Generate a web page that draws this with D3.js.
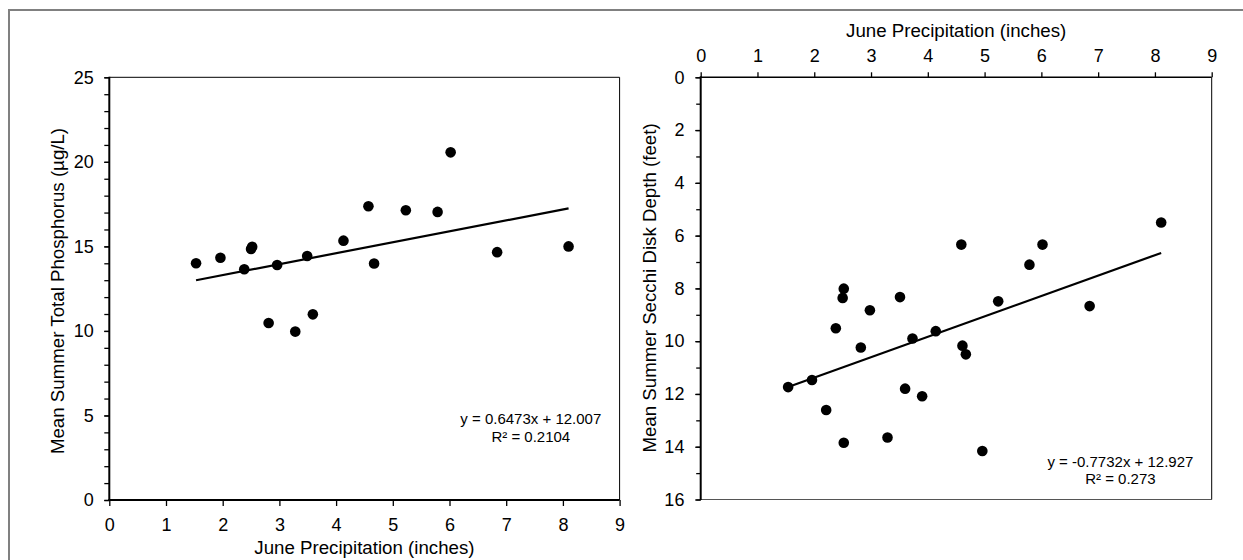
<!DOCTYPE html>
<html>
<head>
<meta charset="utf-8">
<script src="https://cdn.jsdelivr.net/npm/d3@7"></script>
<style>
  html, body { margin: 0; padding: 0; background: #fff; }
  svg { display: block; font-family: Arial, "Liberation Sans", sans-serif; }
</style>
</head>
<body>
<svg id="chart" width="1243" height="560"></svg>
<script>
// ---------- DATA ----------
const xTicks = [0, 1, 2, 3, 4, 5, 6, 7, 8, 9];
const tpTicks = [0, 5, 10, 15, 20, 25];
const secchiTicks = [0, 2, 4, 6, 8, 10, 12, 14, 16];

const xTitle = "June Precipitation (inches)";
const tpTitle = "Mean Summer Total Phosphorus (µg/L)";
const secchiTitle = "Mean Summer Secchi Disk Depth (feet)";

// Total phosphorus vs June precipitation
const tpPrecip = [1.53, 1.96, 2.38, 2.50, 2.52, 2.81, 2.96, 3.28, 3.49, 3.59, 4.13, 4.57, 4.67, 5.23, 5.79, 6.02, 6.84, 8.10];
const tpValues = [14.0, 14.33, 13.65, 14.85, 14.98, 10.47, 13.9, 9.96, 14.43, 10.98, 15.34, 17.37, 13.99, 17.14, 17.04, 20.56, 14.66, 15.0];
const tpFit = { slope: 0.6473, intercept: 12.007 };
const tpEq = ["y = 0.6473x + 12.007", "R² = 0.2104"];

// Secchi depth vs June precipitation
const sdPrecip = [1.54, 1.96, 2.21, 2.38, 2.50, 2.52, 2.52, 2.82, 2.98, 3.29, 3.51, 3.60, 3.73, 3.90, 4.14, 4.59, 4.61, 4.67, 4.96, 5.24, 5.79, 6.02, 6.85, 8.11];
const sdValues = [11.74, 11.47, 12.61, 9.51, 8.36, 8.01, 13.85, 10.24, 8.83, 13.65, 8.33, 11.80, 9.90, 12.09, 9.62, 6.34, 10.17, 10.50, 14.16, 8.49, 7.10, 6.34, 8.67, 5.50];
const sdFit = { slope: -0.7732, intercept: 12.927 };
const sdEq = ["y = -0.7732x + 12.927", "R² = 0.273"];

// ---------- DRAW ----------
const svg = d3.select("#chart");
const TICK_FONT = 18, TITLE_FONT = 18.7, EQ_FONT = 15, R = 5.3;

// outer frame
svg.append("rect").attr("x", 9).attr("y", 10).attr("width", 1300).attr("height", 600)
  .attr("fill", "none").attr("stroke", "#808080").attr("stroke-width", 2);

function styleAxis(g) {
  g.select(".domain").remove();
  g.selectAll(".tick line").attr("stroke", "#000").attr("stroke-width", 1.3);
  g.selectAll(".tick text").attr("font-size", TICK_FONT).attr("fill", "#000")
    .attr("font-family", 'Arial, "Liberation Sans", sans-serif');
}

function fitLine(g, x, y, xs, fit) {
  const x0 = d3.min(xs), x1 = d3.max(xs);
  g.append("line")
    .attr("x1", x(x0)).attr("y1", y(fit.slope * x0 + fit.intercept))
    .attr("x2", x(x1)).attr("y2", y(fit.slope * x1 + fit.intercept))
    .attr("stroke", "#000").attr("stroke-width", 2.2);
}

function dots(g, x, y, xs, ys) {
  g.selectAll("circle.pt").data(xs.map((d, i) => [d, ys[i]])).join("circle")
    .attr("class", "pt")
    .attr("cx", d => x(d[0])).attr("cy", d => y(d[1])).attr("r", R).attr("fill", "#000");
}

function eqText(cx, ys, lines) {
  lines.forEach((t, i) => {
    svg.append("text").attr("x", cx).attr("y", ys[i]).attr("dy", "0.35em")
      .attr("text-anchor", "middle").attr("font-size", EQ_FONT).text(t);
  });
}

// ===== Left chart =====
{
  const x = d3.scaleLinear().domain([0, 9]).range([109.3, 619.6]);
  const y = d3.scaleLinear().domain([0, 25]).range([500, 77.3]);
  const g = svg.append("g");

  g.append("g").attr("transform", `translate(${x(0)},0)`)
    .call(d3.axisLeft(y).tickValues(d3.range(0, 26, 1)).tickSize(5).tickFormat(""))
    .call(styleAxis);
  g.append("g").attr("transform", `translate(${x(0)},0)`)
    .call(d3.axisLeft(y).tickValues(tpTicks).tickSize(5).tickPadding(10.6))
    .call(styleAxis);
  g.append("g").attr("transform", `translate(0,${y(0)})`)
    .call(d3.axisBottom(x).tickValues(xTicks).tickSize(6).tickPadding(12))
    .call(styleAxis);

  // frame
  g.append("line").attr("x1", x(0)).attr("x2", x(9)).attr("y1", y(25)).attr("y2", y(25)).attr("stroke", "#000").attr("stroke-width", 1);
  g.append("line").attr("x1", x(9)).attr("x2", x(9)).attr("y1", y(25)).attr("y2", y(0)).attr("stroke", "#000").attr("stroke-width", 1);
  g.append("line").attr("x1", x(0)).attr("x2", x(0)).attr("y1", y(25) - 0.5).attr("y2", y(0) + 1).attr("stroke", "#000").attr("stroke-width", 2);
  g.append("line").attr("x1", x(0) - 1).attr("x2", x(9)).attr("y1", y(0)).attr("y2", y(0)).attr("stroke", "#000").attr("stroke-width", 2);

  dots(g, x, y, tpPrecip, tpValues);
  fitLine(g, x, y, tpPrecip, tpFit);

  svg.append("text").attr("x", (x(0) + x(9)) / 2).attr("y", 547.5).attr("dy", "0.35em")
    .attr("text-anchor", "middle").attr("font-size", TITLE_FONT).text(xTitle);
  svg.append("text").attr("transform", `translate(57.5,291) rotate(-90)`).attr("dy", "0.35em")
    .attr("text-anchor", "middle").attr("font-size", TITLE_FONT).text(tpTitle);

  eqText(530.8, [418.6, 436.6], tpEq);
}

// ===== Right chart =====
{
  const x = d3.scaleLinear().domain([0, 9]).range([700.7, 1211.7]);
  const y = d3.scaleLinear().domain([0, 16]).range([77.3, 499.5]);
  const g = svg.append("g");

  g.append("g").attr("transform", `translate(${x(0)},0)`)
    .call(d3.axisLeft(y).tickValues(d3.range(0, 17, 1)).tickSize(4.5).tickFormat(""))
    .call(styleAxis);
  g.append("g").attr("transform", `translate(${x(0)},0)`)
    .call(d3.axisLeft(y).tickValues(secchiTicks).tickSize(5.5).tickPadding(10.8))
    .call(styleAxis);
  g.append("g").attr("transform", `translate(0,${y(0)})`)
    .call(d3.axisTop(x).tickValues(xTicks).tickSize(5).tickPadding(10.5))
    .call(styleAxis);

  // frame
  g.append("line").attr("x1", x(0)).attr("x2", x(9)).attr("y1", y(16)).attr("y2", y(16)).attr("stroke", "#555").attr("stroke-width", 1);
  g.append("line").attr("x1", x(9)).attr("x2", x(9)).attr("y1", y(0)).attr("y2", y(16)).attr("stroke", "#000").attr("stroke-width", 1);
  g.append("line").attr("x1", x(0)).attr("x2", x(9)).attr("y1", y(0)).attr("y2", y(0)).attr("stroke", "#000").attr("stroke-width", 1.5);
  g.append("line").attr("x1", x(0)).attr("x2", x(0)).attr("y1", y(0) - 1).attr("y2", y(16) + 0.5).attr("stroke", "#000").attr("stroke-width", 2);

  dots(g, x, y, sdPrecip, sdValues);
  fitLine(g, x, y, sdPrecip, sdFit);

  svg.append("text").attr("x", (x(0) + x(9)) / 2).attr("y", 30.4).attr("dy", "0.35em")
    .attr("text-anchor", "middle").attr("font-size", TITLE_FONT).text(xTitle);
  svg.append("text").attr("transform", `translate(649.6,288) rotate(-90)`).attr("dy", "0.35em")
    .attr("text-anchor", "middle").attr("font-size", TITLE_FONT).text(secchiTitle);

  eqText(1120.4, [461.8, 478.6], sdEq);
}
</script>
</body>
</html>
